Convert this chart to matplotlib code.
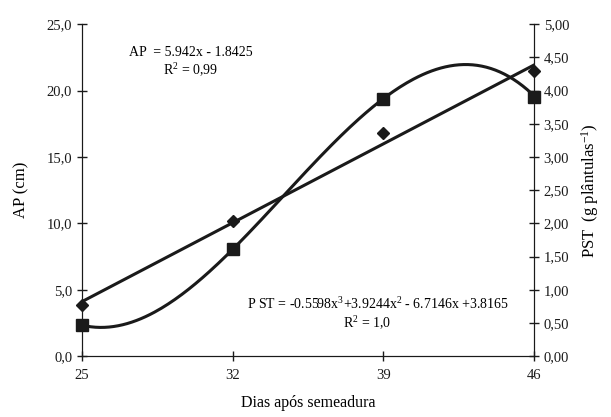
import numpy as np
import matplotlib.pyplot as plt
from matplotlib.ticker import FuncFormatter

plt.rcParams['font.family'] = ['Liberation Serif', 'DejaVu Serif']
plt.rcParams['mathtext.fontset'] = 'custom'
plt.rcParams['mathtext.rm'] = 'Liberation Serif'
plt.rcParams['mathtext.default'] = 'regular'

# Data
dias = [25, 32, 39, 46]
ap = [3.85, 10.2, 16.8, 21.5]      # AP (cm), diamonds
pst = [0.47, 1.61, 3.88, 3.90]     # PST (g plantulas-1), squares

# Trendline coefficients printed on the chart (x = 1..4)
ap_coef = [5.942, -1.8425]
pst_coef = [-0.5598, 3.9244, -6.7146, 3.8165]

fig = plt.figure(figsize=(6.11, 4.17), dpi=100)
ax = fig.add_axes([0.134, 0.146, 0.740, 0.796])
ax2 = ax.twinx()

# trendlines
xs = np.linspace(dias[0], dias[-1], 200)
t = (xs - 25) / 7 + 1
ax.plot(xs, np.polyval(ap_coef, t), color='#1a1a1a', lw=2.2, zorder=2)
ax2.plot(xs, np.polyval(pst_coef, t), color='#1a1a1a', lw=2.2, zorder=2)

# data points
ax.plot(dias, ap, 'D', color='#1a1a1a', ms=6.5, clip_on=False, zorder=3)
ax2.plot(dias, pst, 's', color='#1a1a1a', ms=8.5, clip_on=False, zorder=3)

ax.set_xlim(25, 46)
ax.set_ylim(0, 25)
ax2.set_ylim(0, 5)
ax.set_xticks(dias)
ax.set_yticks(np.arange(0, 25.1, 5))
ax2.set_yticks(np.arange(0, 5.01, 0.5))
ax.yaxis.set_major_formatter(FuncFormatter(lambda v, p: f'{v:.1f}'.replace('.', ',')))
ax2.yaxis.set_major_formatter(FuncFormatter(lambda v, p: f'{v:.2f}'.replace('.', ',')))

for a in (ax, ax2):
    a.spines['top'].set_visible(False)
    a.tick_params(direction='inout', length=7, width=1, labelsize=10.5, colors='#1a1a1a')
    for s in a.spines.values():
        s.set_color('#1a1a1a')
ax.tick_params(axis='x', pad=6)

ax.set_xlabel('Dias após semeadura', fontsize=11.5, labelpad=9)
ax.set_ylabel('AP (cm)', fontsize=12, labelpad=12)
ax2.set_ylabel('PST  (g plântulas$^{-1}$)', fontsize=12, labelpad=7)

ax.text(0.24, 0.915, 'AP  = 5.942x - 1.8425', transform=ax.transAxes,
        ha='center', va='center', fontsize=10)
ax.text(0.24, 0.862, 'R$^{2}$ = 0,99', transform=ax.transAxes,
        ha='center', va='center', fontsize=10)
ax.text(0.655, 0.158, 'P ST = -0.5598x$^{3}$+3.9244x$^{2}$ - 6.7146x +3.8165',
        transform=ax.transAxes, ha='center', va='center', fontsize=10)
ax.text(0.63, 0.10, 'R$^{2}$ = 1,0', transform=ax.transAxes,
        ha='center', va='center', fontsize=10)

plt.savefig('out.png', dpi=100)
